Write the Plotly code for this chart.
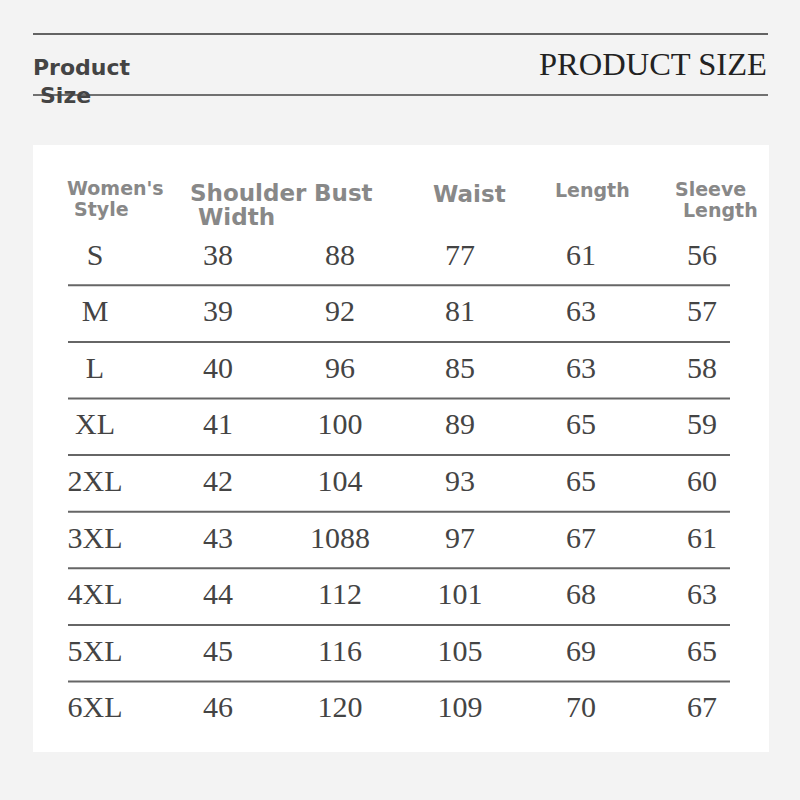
import plotly.graph_objects as go

# size chart data
sizes = ["S", "M", "L", "XL", "2XL", "3XL", "4XL", "5XL", "6XL"]
shoulder = [38, 39, 40, 41, 42, 43, 44, 45, 46]
bust = [88, 92, 96, 100, 104, 1088, 112, 116, 120]
waist = [77, 81, 85, 89, 93, 97, 101, 105, 109]
length = [61, 63, 63, 65, 65, 67, 68, 69, 70]
sleeve = [56, 57, 58, 59, 60, 61, 63, 65, 67]

# layout in pixel coords (0..800)
col_x = [95, 218, 340, 460, 581, 702]
row0 = 257
row_step = 56.6

columns = [sizes, shoulder, bust, waist, length, sleeve]

xs, ys, txt = [], [], []
for ci, col in enumerate(columns):
    for ri, v in enumerate(col):
        xs.append(col_x[ci])
        ys.append(row0 + ri * row_step)
        txt.append(str(v))

fig = go.Figure()
fig.add_trace(go.Scatter(
    x=xs, y=ys, text=txt, mode="text",
    textfont=dict(family="Liberation Serif", size=30, color="#444444"),
    hoverinfo="skip", showlegend=False,
))

shapes = [
    # white panel
    dict(type="rect", x0=33, x1=769, y0=145, y1=752, fillcolor="white",
         line_width=0, layer="below"),
    # header rules
    dict(type="line", x0=33, x1=768, y0=34, y1=34, line=dict(color="#333", width=1.5)),
    dict(type="line", x0=33, x1=768, y0=95, y1=95, line=dict(color="#444", width=1.5)),
]
for ri in range(len(sizes) - 1):
    y = row0 + (ri + 0.5) * row_step
    shapes.append(dict(type="line", x0=68, x1=730, y0=y, y1=y,
                       line=dict(color="#666", width=2)))

hdr = dict(family="DejaVu Sans", color="#888888")
headers = [
    ("Women's", 65, 188, 19), ("Style", 72, 209, 19),
    ("Shoulder", 188, 193, 23), ("Width", 196, 217, 23),
    ("Bust", 312, 193, 23), ("Waist", 431, 194, 23),
    ("Length", 553, 190, 19),
    ("Sleeve", 673, 189, 19), ("Length", 681, 210, 19),
]
annotations = []
for t, x, y, s in headers:
    annotations.append(dict(x=x, y=y, text="<b>%s</b>" % t, showarrow=False,
                            xanchor="left", yanchor="middle",
                            font=dict(size=s, **hdr)))

annotations += [
    dict(x=31, y=67, text="<b>Product</b>", showarrow=False, xanchor="left",
         yanchor="middle", font=dict(family="DejaVu Sans", size=22, color="#444")),
    dict(x=38, y=95, text="<b>Size</b>", showarrow=False, xanchor="left",
         yanchor="middle", font=dict(family="DejaVu Sans", size=22, color="#444")),
    dict(x=769, y=64, text="PRODUCT SIZE", showarrow=False, xanchor="right",
         yanchor="middle", font=dict(family="Liberation Serif", size=32.5, color="#222")),
]

fig.update_layout(
    width=800, height=800,
    margin=dict(l=0, r=0, t=0, b=0),
    paper_bgcolor="#f3f3f3", plot_bgcolor="#f3f3f3",
    xaxis=dict(range=[0, 800], visible=False, fixedrange=True),
    yaxis=dict(range=[800, 0], visible=False, fixedrange=True),
    shapes=shapes, annotations=annotations,
)

fig.write_html("out.html", config=dict(displayModeBar=False),
               post_script="document.body.style.margin='0';"
                           "document.body.style.background='#f3f3f3';")
